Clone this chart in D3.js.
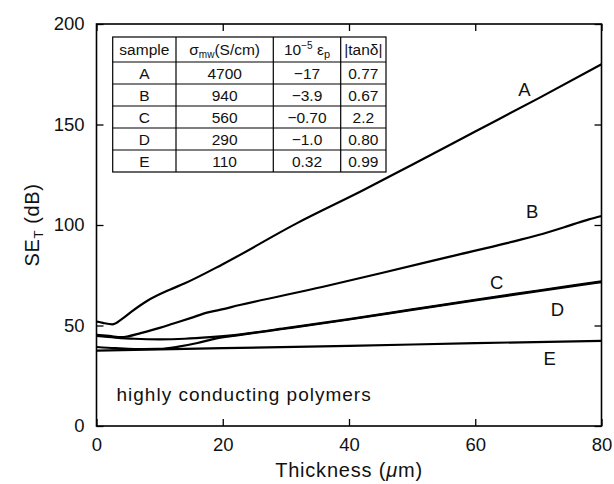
<!DOCTYPE html>
<html>
<head>
<meta charset="utf-8">
<script src="https://cdn.jsdelivr.net/npm/d3@7"></script>
<style>
  body { margin: 0; background: #fff; }
  svg { display: block; font-family: "Liberation Sans", Arial, Helvetica, sans-serif; }
</style>
</head>
<body>
<svg id="chart" width="614" height="484"></svg>
<script>
// Shielding effectiveness vs film thickness for five samples
const thickness = {
  A: [0, 1, 2.5, 4, 5.5, 8, 11.6, 14, 20, 31.7, 42.3, 50, 60, 70, 80],
  B: [0, 2, 4, 5, 7, 10, 12.2, 15, 17.5, 19.5, 22.7, 35.9, 45, 57, 65, 70, 75, 78, 80],
  C: [0, 3, 6, 10, 14, 18, 21, 30, 40, 50, 60, 70, 80],
  D: [0, 3, 6, 10, 13, 16, 19, 22, 30, 40, 50, 60, 70, 80],
  E: [0, 20, 40, 60, 80]
};
const seA = [52, 51.3, 50.6, 53.2, 56.8, 62.2, 67.8, 71, 80.5, 100.8, 117.4, 130, 146.5, 163, 180];
const seB = [45.3, 44.8, 44.2, 44.6, 46.2, 48.8, 51, 53.8, 56.4, 57.8, 60.2, 69.3, 76, 85, 91, 95, 99.8, 102.8, 104.5];
const seC = [44.8, 44, 43.4, 43.1, 43.4, 44.2, 45, 48.7, 53.2, 58, 62.8, 67.4, 72];
const seD = [39.3, 38.7, 38.3, 38.4, 39.5, 41.3, 43.6, 45, 48.5, 53, 57.8, 62.5, 67.1, 71.6];
const seE = [37.5, 38.7, 39.9, 41.2, 42.4];

const sampleNames = ["A", "B", "C", "D", "E"];
const seriesValues = { A: seA, B: seB, C: seC, D: seD, E: seE };

// Curve label anchor points (data units)
const labelPos = {
  A: [67.8, 167.5],
  B: [69.0, 106.5],
  C: [63.4, 71.5],
  D: [73, 58],
  E: [71.8, 33.5]
};

// Inset table
const tableSigma = ["4700", "940", "560", "290", "110"];
const tableEps = ["\u221217", "\u22123.9", "\u22120.70", "\u22121.0", "0.32"];
const tableTan = ["0.77", "0.67", "2.2", "0.80", "0.99"];

const xTicks = [0, 20, 40, 60, 80];
const yTicks = [0, 50, 100, 150, 200];

const svg = d3.select("#chart");
const plot = { left: 96.5, right: 601.5, top: 24, bottom: 426 };

const x = d3.scaleLinear().domain([0, 80]).range([plot.left, plot.right]);
const y = d3.scaleLinear().domain([0, 200]).range([plot.bottom, plot.top]);

const labelFont = 18.5;
const titleFont = 20;

// Axes with inward ticks on all four sides
const tickLen = 7;
const axB = svg.append("g").attr("transform", `translate(0,${plot.bottom})`)
  .call(d3.axisBottom(x).tickValues(xTicks).tickSize(-tickLen).tickPadding(12).tickFormat(d3.format("d")));
const axT = svg.append("g").attr("transform", `translate(0,${plot.top})`)
  .call(d3.axisTop(x).tickValues(xTicks).tickSize(-tickLen).tickFormat(""));
const axL = svg.append("g").attr("transform", `translate(${plot.left},0)`)
  .call(d3.axisLeft(y).tickValues(yTicks).tickSize(-tickLen).tickPadding(12).tickFormat(d3.format("d")));
const axR = svg.append("g").attr("transform", `translate(${plot.right},0)`)
  .call(d3.axisRight(y).tickValues(yTicks).tickSize(-tickLen).tickFormat(""));

[axB, axT, axL, axR].forEach(g => {
  g.select(".domain").remove();
  g.selectAll(".tick line").attr("stroke", "#000").attr("stroke-width", 1.3);
  g.selectAll("text").attr("fill", "#111").attr("font-size", labelFont)
    .attr("font-family", "'Liberation Sans', Arial, sans-serif");
});
axB.selectAll("text").attr("dy", "0.71em");

svg.append("rect")
  .attr("x", plot.left).attr("y", plot.top)
  .attr("width", plot.right - plot.left).attr("height", plot.bottom - plot.top)
  .attr("fill", "none").attr("stroke", "#000").attr("stroke-width", 1.6);

// Curves
const line = d3.line().curve(d3.curveMonotoneX);
const curves = svg.append("g");
sampleNames.forEach(name => {
  const pts = thickness[name].map((t, i) => [x(t), y(seriesValues[name][i])]);
  curves.append("path")
    .attr("d", line(pts))
    .attr("fill", "none")
    .attr("stroke", "#000")
    .attr("stroke-width", 2.2)
    .attr("stroke-linejoin", "round");
});

// Curve letters
sampleNames.forEach(name => {
  svg.append("text")
    .attr("x", x(labelPos[name][0]))
    .attr("y", y(labelPos[name][1]))
    .attr("text-anchor", "middle")
    .attr("dominant-baseline", "central")
    .attr("font-size", labelFont)
    .attr("fill", "#111")
    .text(name);
});

// Caption inside plot
svg.append("text")
  .attr("x", 116.5).attr("y", 401)
  .attr("font-size", 19)
  .attr("letter-spacing", 1)
  .attr("fill", "#111")
  .text("highly conducting polymers");

// Axis titles
svg.append("text")
  .attr("x", 349).attr("y", 477)
  .attr("text-anchor", "middle")
  .attr("font-size", titleFont)
  .attr("letter-spacing", 0.8)
  .attr("fill", "#111")
  .call(t => {
    t.append("tspan").text("Thickness (");
    t.append("tspan").attr("font-style", "italic").text("\u03BC");
    t.append("tspan").text("m)");
  });

svg.append("text")
  .attr("transform", "translate(39,225) rotate(-90)")
  .attr("text-anchor", "middle")
  .attr("font-size", titleFont)
  .attr("letter-spacing", 0.6)
  .attr("fill", "#111")
  .call(t => {
    t.append("tspan").text("SE");
    t.append("tspan").attr("font-size", 13).attr("dy", 4).text("T");
    t.append("tspan").attr("dy", -4).text(" (dB)");
  });

// Inset table
const tbl = { top: 37, headerH: 25, rowH: 22 };
const colX = [112.7, 176, 273.3, 340.7, 386];
const tg = svg.append("g");
const nRows = tableSigma.length;
const tblBottom = tbl.top + tbl.headerH + nRows * tbl.rowH;

tg.append("rect")
  .attr("x", colX[0]).attr("y", tbl.top)
  .attr("width", colX[4] - colX[0]).attr("height", tblBottom - tbl.top)
  .attr("fill", "#fff").attr("stroke", "#000").attr("stroke-width", 1.2);
colX.slice(1, 4).forEach(cx => {
  tg.append("line").attr("x1", cx).attr("x2", cx)
    .attr("y1", tbl.top).attr("y2", tblBottom)
    .attr("stroke", "#000").attr("stroke-width", 1.2);
});
for (let r = 0; r < nRows; r++) {
  const ry = tbl.top + tbl.headerH + r * tbl.rowH;
  tg.append("line").attr("x1", colX[0]).attr("x2", colX[4])
    .attr("y1", ry).attr("y2", ry)
    .attr("stroke", "#000").attr("stroke-width", 1.2);
}

const cellFont = 15.5;
const colMid = i => (colX[i] + colX[i + 1]) / 2;
const headY = tbl.top + tbl.headerH / 2 + 5;

tg.append("text").attr("x", colMid(0)).attr("y", headY)
  .attr("text-anchor", "middle").attr("font-size", cellFont).attr("fill", "#111").text("sample");
tg.append("text").attr("x", colMid(1)).attr("y", headY)
  .attr("text-anchor", "middle").attr("font-size", cellFont).attr("fill", "#111")
  .call(t => {
    t.append("tspan").text("\u03C3");
    t.append("tspan").attr("font-size", 10).attr("dy", 3).text("mw");
    t.append("tspan").attr("dy", -3).text("(S/cm)");
  });
tg.append("text").attr("x", colMid(2)).attr("y", headY)
  .attr("text-anchor", "middle").attr("font-size", cellFont).attr("fill", "#111")
  .call(t => {
    t.append("tspan").text("10");
    t.append("tspan").attr("font-size", 10).attr("dy", -6).text("\u22125");
    t.append("tspan").attr("dy", 6).text(" \u03B5");
    t.append("tspan").attr("font-size", 11).attr("dy", 3).text("p");
  });
tg.append("text").attr("x", colMid(3)).attr("y", headY)
  .attr("text-anchor", "middle").attr("font-size", cellFont).attr("fill", "#111")
  .text("|tan\u03B4|");

const cols = [sampleNames, tableSigma, tableEps, tableTan];
cols.forEach((vals, ci) => {
  vals.forEach((v, ri) => {
    tg.append("text")
      .attr("x", colMid(ci))
      .attr("y", tbl.top + tbl.headerH + ri * tbl.rowH + tbl.rowH / 2 + 5.5)
      .attr("text-anchor", "middle")
      .attr("font-size", cellFont)
      .attr("fill", "#111")
      .text(v);
  });
});
</script>
</body>
</html>
